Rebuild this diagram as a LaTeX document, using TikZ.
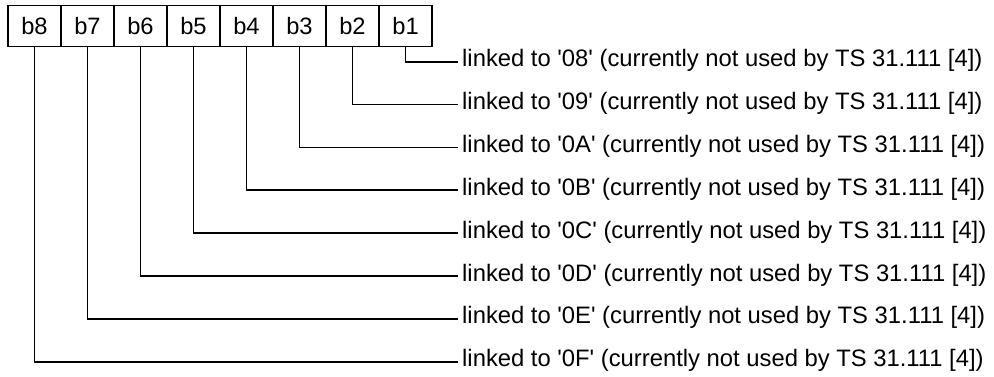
\documentclass[tikz,border=0pt]{standalone}
\usepackage{fontspec}
\newfontfamily\bitfont{Liberation Sans}
\usepackage{tikz}
\usetikzlibrary{positioning}

\begin{document}
\begin{tikzpicture}[x=1pt, y=-1pt,
  bit/.style={draw, rectangle, line width=1.7pt, minimum width=53pt,
    minimum height=41pt, inner sep=0pt, outer sep=0pt,
    font=\bitfont\fontsize{23.7}{28}\selectfont},
  link/.style={anchor=west, inner xsep=4.5pt, inner ysep=0pt,
    text height=10pt, text depth=-10pt, font=\bitfont\fontsize{23.8}{28}\selectfont},
  wire/.style={line width=1.7pt}
]
\useasboundingbox (0,0) rectangle (994,376);

\node[bit] (b8) at (34.5,26) {b8};
\node[bit, right=0pt of b8] (b7) {b7};
\node[bit, right=0pt of b7] (b6) {b6};
\node[bit, right=0pt of b6] (b5) {b5};
\node[bit, right=0pt of b5] (b4) {b4};
\node[bit, right=0pt of b4] (b3) {b3};
\node[bit, right=0pt of b3] (b2) {b2};
\node[bit, right=0pt of b2] (b1) {b1};

\node[link] (l1) at (457.5,61.7) {linked to '08' (currently not used by TS 31.111 [4])};
\node[link] (l2) at (457.5,104.6) {linked to '09' (currently not used by TS 31.111 [4])};
\node[link] (l3) at (457.5,147.4) {linked to '0A' (currently not used by TS 31.111 [4])};
\node[link] (l4) at (457.5,190.3) {linked to '0B' (currently not used by TS 31.111 [4])};
\node[link] (l5) at (457.5,233.1) {linked to '0C' (currently not used by TS 31.111 [4])};
\node[link] (l6) at (457.5,276.0) {linked to '0D' (currently not used by TS 31.111 [4])};
\node[link] (l7) at (457.5,318.9) {linked to '0E' (currently not used by TS 31.111 [4])};
\node[link] (l8) at (457.5,361.7) {linked to '0F' (currently not used by TS 31.111 [4])};

\draw[wire] (b1.south) |- (l1.west);
\draw[wire] (b2.south) |- (l2.west);
\draw[wire] (b3.south) |- (l3.west);
\draw[wire] (b4.south) |- (l4.west);
\draw[wire] (b5.south) |- (l5.west);
\draw[wire] (b6.south) |- (l6.west);
\draw[wire] (b7.south) |- (l7.west);
\draw[wire] (b8.south) |- (l8.west);

\end{tikzpicture}
\end{document}
